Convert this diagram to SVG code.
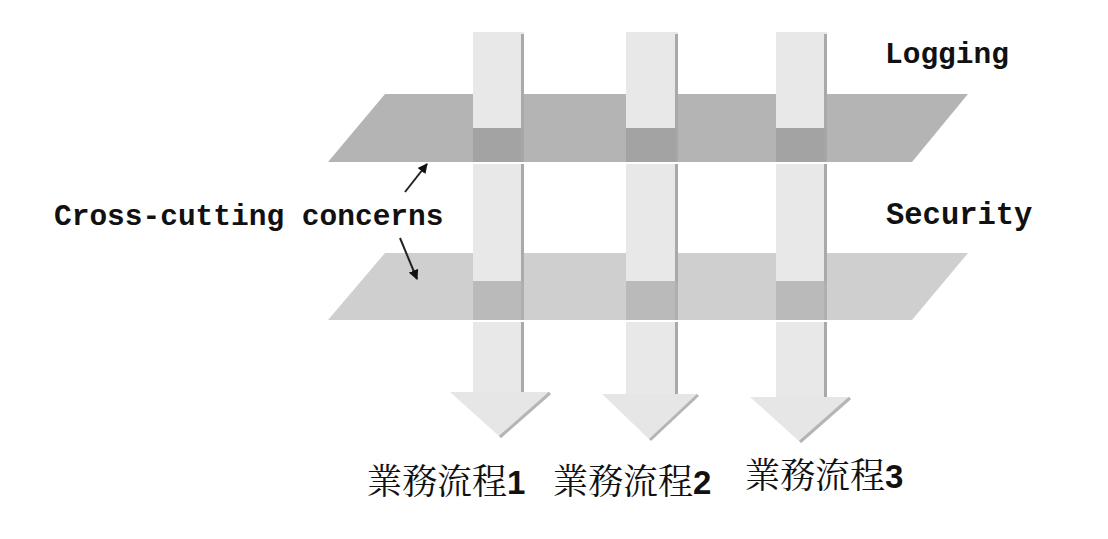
<svg xmlns="http://www.w3.org/2000/svg" width="1108" height="539" viewBox="0 0 1108 539">
  <style>
    .col{fill:#e8e8e8}
    .colsh{fill:#a9a9a9}
    .plane1{fill:#b4b4b4}
    .ov1{fill:#a3a3a3}
    .plane2{fill:#cfcfcf}
    .ov2{fill:#bababa}
    .head{fill:#e6e6e6}
    .headsh{fill:none;stroke:#b5b5b5;stroke-width:3}
    .mono{font-family:"Liberation Mono","DejaVu Sans Mono",monospace;font-weight:bold;font-size:29.5px;fill:#111}
    .cjk{font-family:"Noto Serif CJK TC","Noto Sans CJK TC",serif;font-size:35px;fill:#111}
    .num{font-family:"Liberation Sans",Arial,sans-serif;font-weight:bold;font-size:33px}
    .conn{stroke:#222;stroke-width:2;fill:none}
  </style>
  <defs>
    <marker id="ah" viewBox="0 0 10 10" refX="9" refY="5" markerWidth="5" markerHeight="5" orient="auto">
      <path d="M0,0 L10,5 L0,10 z" fill="#111"/>
    </marker>
  </defs>
  <rect width="1108" height="539" fill="#ffffff"/>

  <g id="plane-logging">
    <polygon class="plane1" points="385,94 968,94 912,162 328,162"/>
  </g>
  <g id="plane-security">
    <polygon class="plane2" points="385,253 968,253 912,320 328,320"/>
  </g>

  <g id="flow1">
    <rect class="col" x="473" y="32" width="51" height="96"/>
    <rect class="colsh" x="521" y="34" width="3" height="94"/>
    <rect class="ov1" x="473" y="128" width="51" height="34"/>
    <rect class="colsh" x="521" y="128" width="3" height="34" opacity="0.6"/>
    <rect class="col" x="473" y="164" width="51" height="117"/>
    <rect class="colsh" x="521" y="164" width="3" height="117"/>
    <rect class="ov2" x="473" y="281" width="51" height="39"/>
    <rect class="colsh" x="521" y="281" width="3" height="39" opacity="0.6"/>
    <rect class="col" x="473" y="322" width="51" height="72"/>
    <rect class="colsh" x="521" y="322" width="3" height="72"/>
    <polygon class="head" points="450,392 550,392 500,437"/>
    <polyline class="headsh" points="550,393 500,437"/>
  </g>

  <g id="flow2">
    <rect class="col" x="626" y="32" width="52" height="96"/>
    <rect class="colsh" x="675" y="34" width="3" height="94"/>
    <rect class="ov1" x="626" y="128" width="52" height="34"/>
    <rect class="colsh" x="675" y="128" width="3" height="34" opacity="0.6"/>
    <rect class="col" x="626" y="164" width="52" height="117"/>
    <rect class="colsh" x="675" y="164" width="3" height="117"/>
    <rect class="ov2" x="626" y="281" width="52" height="39"/>
    <rect class="colsh" x="675" y="281" width="3" height="39" opacity="0.6"/>
    <rect class="col" x="626" y="322" width="52" height="73"/>
    <rect class="colsh" x="675" y="322" width="3" height="73"/>
    <polygon class="head" points="602,394 698,394 650,440"/>
    <polyline class="headsh" points="698,395 650,440"/>
  </g>

  <g id="flow3">
    <rect class="col" x="776" y="32" width="51" height="96"/>
    <rect class="colsh" x="824" y="34" width="3" height="94"/>
    <rect class="ov1" x="776" y="128" width="51" height="34"/>
    <rect class="colsh" x="824" y="128" width="3" height="34" opacity="0.6"/>
    <rect class="col" x="776" y="164" width="51" height="117"/>
    <rect class="colsh" x="824" y="164" width="3" height="117"/>
    <rect class="ov2" x="776" y="281" width="51" height="39"/>
    <rect class="colsh" x="824" y="281" width="3" height="39" opacity="0.6"/>
    <rect class="col" x="776" y="322" width="51" height="76"/>
    <rect class="colsh" x="824" y="322" width="3" height="76"/>
    <polygon class="head" points="750,397 850,397 800,442"/>
    <polyline class="headsh" points="850,398 800,442"/>
  </g>

  <g id="connectors">
    <line class="conn" x1="405" y1="192" x2="427" y2="164" marker-end="url(#ah)"/>
    <line class="conn" x1="400" y1="238" x2="417" y2="279" marker-end="url(#ah)"/>
  </g>

  <g id="labels">
    <text class="mono" x="885" y="63">Logging</text>
    <text class="mono" x="886" y="224" style="font-size:30.5px">Security</text>
    <text class="mono" x="54" y="225">Cross-cutting concerns</text>
    <text class="cjk" x="367" y="494">業務流程<tspan class="num">1</tspan></text>
    <text class="cjk" x="553" y="494">業務流程<tspan class="num">2</tspan></text>
    <text class="cjk" x="745" y="488">業務流程<tspan class="num">3</tspan></text>
  </g>
</svg>
